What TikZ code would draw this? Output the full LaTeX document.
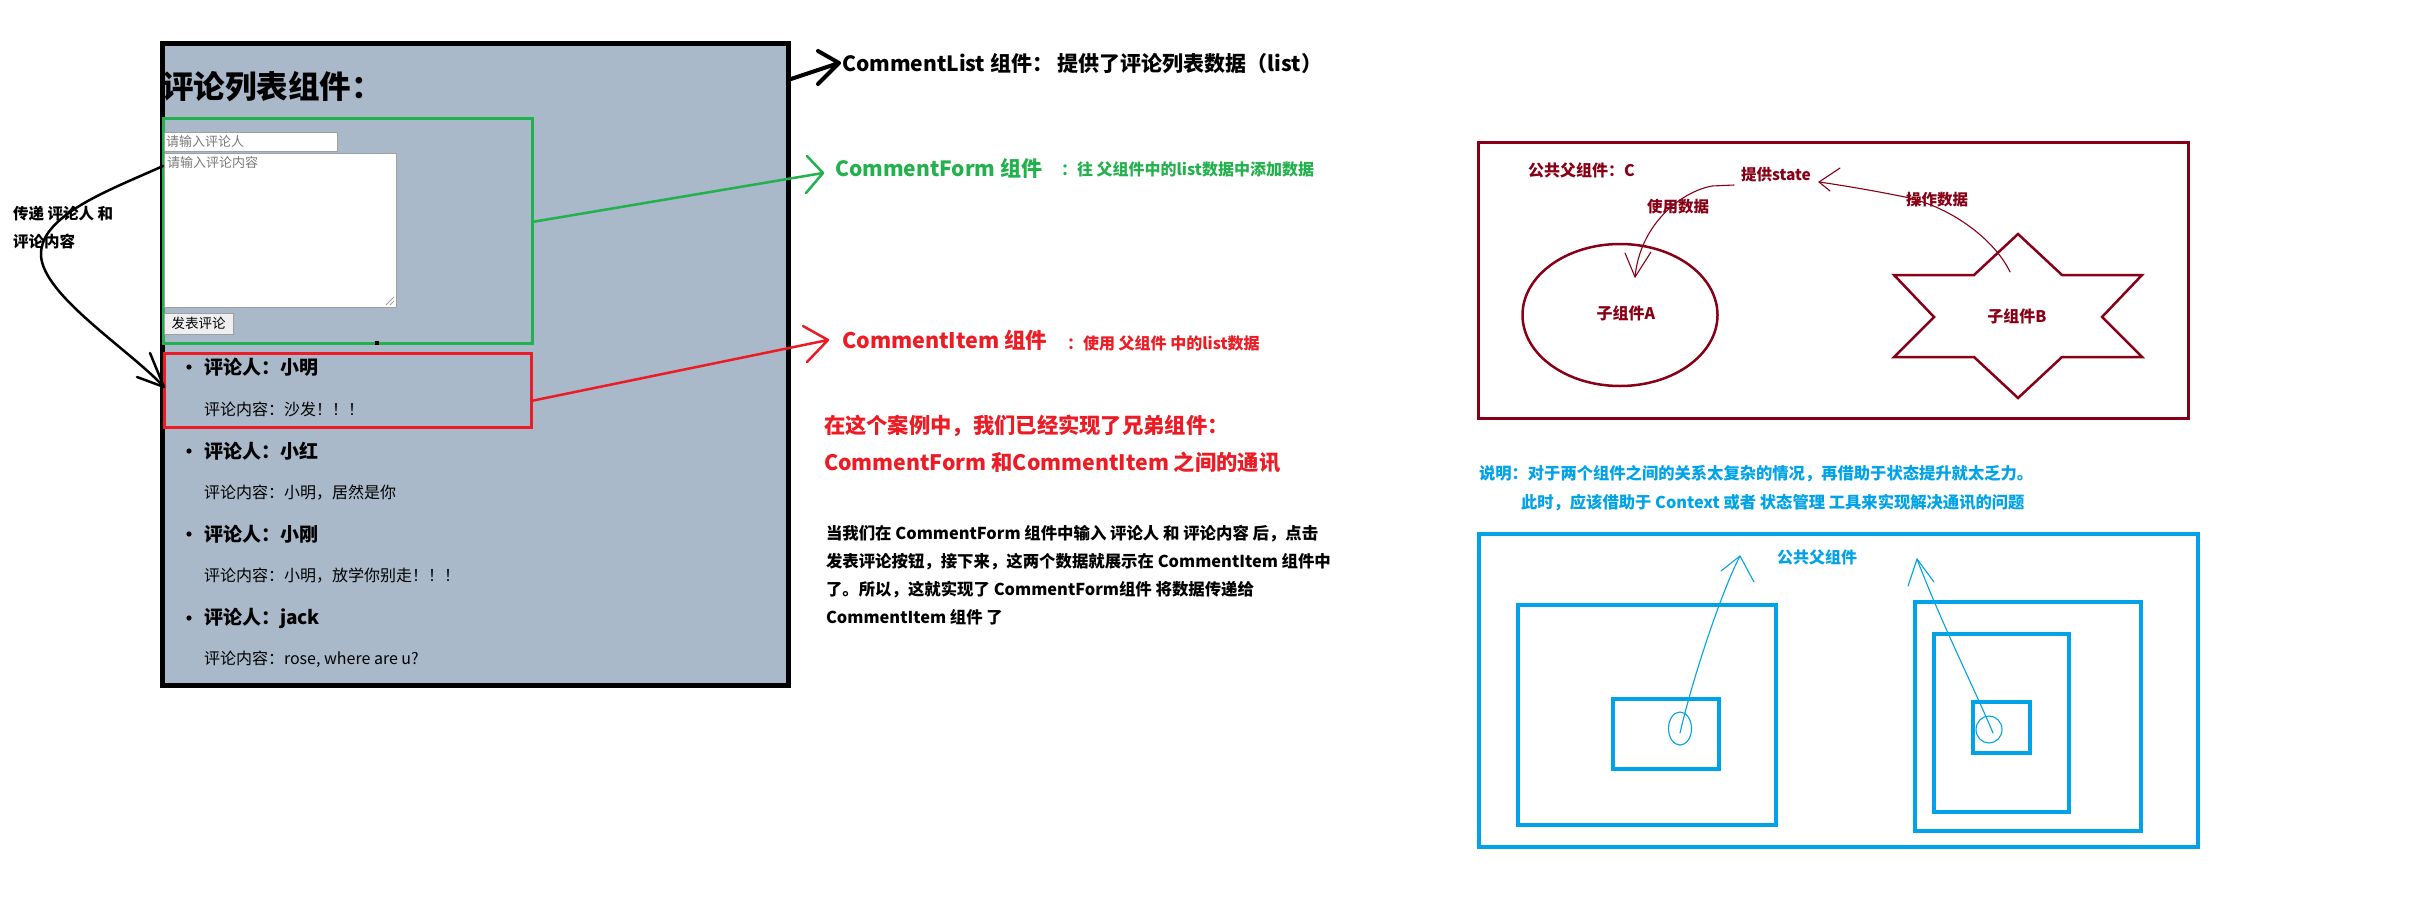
\documentclass[tikz,border=0pt]{standalone}
\usepackage{fontspec}
\usetikzlibrary{shapes.geometric}
\setmainfont{Noto Sans CJK SC}
\definecolor{boxbg}{HTML}{A9B9CA}
\definecolor{pgreen}{HTML}{22B14C}
\definecolor{pred}{HTML}{ED1C24}
\definecolor{dred}{HTML}{880015}
\definecolor{pblue}{HTML}{00A2E8}
\definecolor{inputgray}{HTML}{A0A0A0}
\definecolor{phgray}{HTML}{7A7A7A}
\definecolor{btnbg}{HTML}{EFEFEF}
\newcommand{\fz}[1]{\fontsize{#1pt}{#1pt}\selectfont}
\begin{document}
\begin{tikzpicture}[x=1pt,y=-1pt,
  txt/.style={anchor=west,inner sep=0pt,outer sep=0pt},
  frame/.style={draw,inner sep=0pt,outer sep=0pt},
  hand/.style={line cap=round,line join=round},
  bigarrow/.style={hand,line width=4pt},
  midarrow/.style={hand,line width=2.5pt},
  thin/.style={hand,line width=1.1pt}]
\useasboundingbox (0,0) rectangle (2424,908);
\fill[white] (0,0) rectangle (2424,908);

% ---------- left: comment list component ----------
\node[frame, line width=5pt, fill=boxbg, minimum width=626pt, minimum height=642pt] (clist) at (475,364) {};
\node[txt, font=\bfseries\fz{31.5}] (title) at (162,87) {评论列表组件：};

\node[frame, draw=pgreen, line width=3pt, minimum width=369pt, minimum height=225pt] (cform) at (347.5,230.5) {};
\node[frame, draw=inputgray, fill=white, line width=1pt, minimum width=173pt, minimum height=19pt, anchor=north west] (inp) at (164,132) {};
\node[txt, font=\fz{13}, text=phgray] (inptxt) at (166,141.5) {请输入评论人};
\node[frame, draw=inputgray, fill=white, line width=1pt, minimum width=232pt, minimum height=154pt, anchor=north west] (ta) at (164,153) {};
\node[txt, font=\fz{13}, text=phgray] (tatxt) at (167,163) {请输入评论内容};
\draw[inputgray, line width=0.8pt] (394,297) -- (386,305) (394,301) -- (390,305);
\node[frame, draw=inputgray, fill=btnbg, line width=1pt, minimum width=69pt, minimum height=21pt, anchor=north west, font=\fz{13.5}] (btn) at (164,313) {发表评论};
\fill (375,341) rectangle (379,345);

\node[frame, draw=pred, line width=3pt, minimum width=367pt, minimum height=74pt] (citem) at (347.5,390.5) {};

\foreach \yy in {367,451,534,618} \fill (189,\yy) circle (2.6pt);
\node[txt, font=\bfseries\fz{19}] (n1) at (204,367) {评论人：小明};
\node[txt, font=\fz{16}] (c1) at (204,409) {评论内容：沙发！！！};
\node[txt, font=\bfseries\fz{19}] (n2) at (204,451) {评论人：小红};
\node[txt, font=\fz{16}] (c2) at (204,493) {评论内容：小明，居然是你};
\node[txt, font=\bfseries\fz{19}] (n3) at (204,534) {评论人：小刚};
\node[txt, font=\fz{16}] (c3) at (204,576) {评论内容：小明，放学你别走！！！};
\node[txt, font=\bfseries\fz{19}] (n4) at (204,618) {评论人：jack};
\node[txt, font=\fz{16}] (c4) at (204,659) {评论内容：rose, where are u?};

% left annotation
\node[txt, font=\bfseries\fz{15.5}] (pass1) at (13,214) {传递 评论人 和};
\node[txt, font=\bfseries\fz{15.5}] (pass2) at (13,242) {评论内容};
\coordinate (ls) at (cform.west |- 0,166);
\coordinate (le) at (citem.west |- 0,387);
\draw[midarrow] (ls) .. controls (110,190) and (40,215) .. (41,255)
  .. controls (42,295) and (130,350) .. (le);
\draw[midarrow] (150,353) -- (le) -- (137,377);

% ---------- right labels ----------
\node[txt, font=\bfseries\fz{21}] (lbl1) at (842,64) {CommentList 组件：\ 提供了评论列表数据（list）};
\coordinate (b0) at (clist.east |- 0,80);
\coordinate (b1) at (839,63);
\draw[bigarrow] (b0) -- (b1) (818,51) -- (b1) -- (818,84);

\node[txt, font=\bfseries\fz{21}, text=pgreen] (lbl2) at (835,168) {CommentForm 组件};
\node[txt, font=\bfseries\fz{16}, text=pgreen] (lbl2b) at (1061,169) {：往 父组件中的list数据中添加数据};
\coordinate (g0) at (cform.east |- 0,222);
\coordinate (g1) at (823,173);
\draw[midarrow, pgreen] (g0) -- (g1) (807,156) -- (g1) -- (806,193);

\node[txt, font=\bfseries\fz{21.5}, text=pred] (lbl3) at (842,340) {CommentItem 组件};
\node[txt, font=\bfseries\fz{16}, text=pred] (lbl3b) at (1067,343) {：使用 父组件 中的list数据};
\coordinate (r0) at (citem.east |- 0,401);
\coordinate (r1) at (828,340);
\draw[midarrow, pred] (r0) -- (r1) (803,326) -- (r1) -- (807,362);

\node[txt, font=\bfseries\fz{21.3}, text=pred] (st1) at (824,426) {在这个案例中，我们已经实现了兄弟组件：};
\node[txt, font=\bfseries\fz{21.3}, text=pred] (st2) at (824,462) {CommentForm 和CommentItem 之间的通讯};

\node[txt, font=\bfseries\fz{16.4}] (p1) at (826,534) {当我们在 CommentForm 组件中输入 评论人 和 评论内容 后，点击};
\node[txt, font=\bfseries\fz{16.4}] (p2) at (826,562) {发表评论按钮，接下来，这两个数据就展示在 CommentItem 组件中};
\node[txt, font=\bfseries\fz{16.4}] (p3) at (826,590) {了。所以，这就实现了 CommentForm组件 将数据传递给};
\node[txt, font=\bfseries\fz{16.4}] (p4) at (826,617) {CommentItem 组件 了};

% ---------- top right: lifting state ----------
\node[frame, draw=dred, line width=3pt, minimum width=710pt, minimum height=276pt] (parentC) at (1833,280) {};
\node[txt, font=\bfseries\fz{16}, text=dred] (pcl) at (1528,170) {公共父组件：C};
\node[frame, draw=dred, line width=2.5pt, ellipse, minimum width=195pt, minimum height=142pt] (compA) at (1620,315) {};
\node[font=\bfseries\fz{16}, text=dred] (lblA) at (1626,313) {子组件A};
\draw[dred, line width=2.5pt, line join=miter]
  (2018,234) -- (2062,275) -- (2142,275) -- (2102,317) -- (2142,357) -- (2062,357)
  -- (2018,398) -- (1974,357) -- (1894,357) -- (1934,317) -- (1894,275) -- (1974,275) -- cycle;
\node[font=\bfseries\fz{16}, text=dred] (lblB) at (2017,316) {子组件B};
\node[txt, font=\bfseries\fz{15.5}, text=dred] (state) at (1741,175) {提供state};
\node[txt, font=\bfseries\fz{15.5}, text=dred] (use) at (1647,207) {使用数据};
\node[txt, font=\bfseries\fz{15.5}, text=dred] (op) at (1906,200) {操作数据};
\coordinate (ua) at (1635,277);
\draw[thin, dred] (1734,185) -- (1712,186) .. controls (1680,192) and (1640,225) .. (ua);
\draw[thin, dred] (1625,253) -- (ua) -- (1651,252);
\coordinate (sa) at (1819,182);
\draw[thin, dred] (2010,272) .. controls (1995,240) and (1950,205) .. (1900,196)
  .. controls (1870,190) and (1840,185) .. (sa);
\draw[thin, dred] (1840,168) -- (sa) -- (1830,191);

% ---------- bottom right: context ----------
\node[txt, font=\bfseries\fz{16.3}, text=pblue] (note1) at (1479,474) {说明：对于两个组件之间的关系太复杂的情况，再借助于状态提升就太乏力。};
\node[txt, font=\bfseries\fz{16.3}, text=pblue] (note2) at (1521,503) {此时，应该借助于 Context 或者 状态管理 工具来实现解决通讯的问题};
\node[frame, draw=pblue, line width=3.5pt, minimum width=719pt, minimum height=313pt] (outer) at (1838.5,690.5) {};
\node[font=\bfseries\fz{16}, text=pblue] (outl) at (1817,557) {公共父组件};
\node[frame, draw=pblue, line width=3.5pt, minimum width=258pt, minimum height=220pt] (lbox) at (1647,715) {};
\node[frame, draw=pblue, line width=3.5pt, minimum width=106pt, minimum height=70pt] (lin) at (1666,734) {};
\node[frame, draw=pblue, line width=3.5pt, minimum width=226pt, minimum height=229pt] (rbox) at (2028,716.5) {};
\node[frame, draw=pblue, line width=3.5pt, minimum width=135pt, minimum height=178pt] (rmid) at (2001.5,723) {};
\node[frame, draw=pblue, line width=3.5pt, minimum width=57pt, minimum height=51pt] (rin) at (2001.5,727.5) {};
\draw[thin, pblue] (1680,728.5) ellipse [x radius=11.5pt, y radius=16.5pt];
\draw[thin, pblue] (1989,729.5) ellipse [x radius=13pt, y radius=13.5pt];
\coordinate (lt) at (1740,556);
\draw[thin, pblue] (1680,733) .. controls (1692,680) and (1722,590) .. (lt);
\draw[thin, pblue] (1721,571) -- (lt) -- (1754,582);
\coordinate (rt) at (1917,559);
\draw[thin, pblue] (1993,733) .. controls (1975,690) and (1940,620) .. (rt);
\draw[thin, pblue] (1908,586) -- (rt) -- (1934,582);
\end{tikzpicture}
\end{document}
